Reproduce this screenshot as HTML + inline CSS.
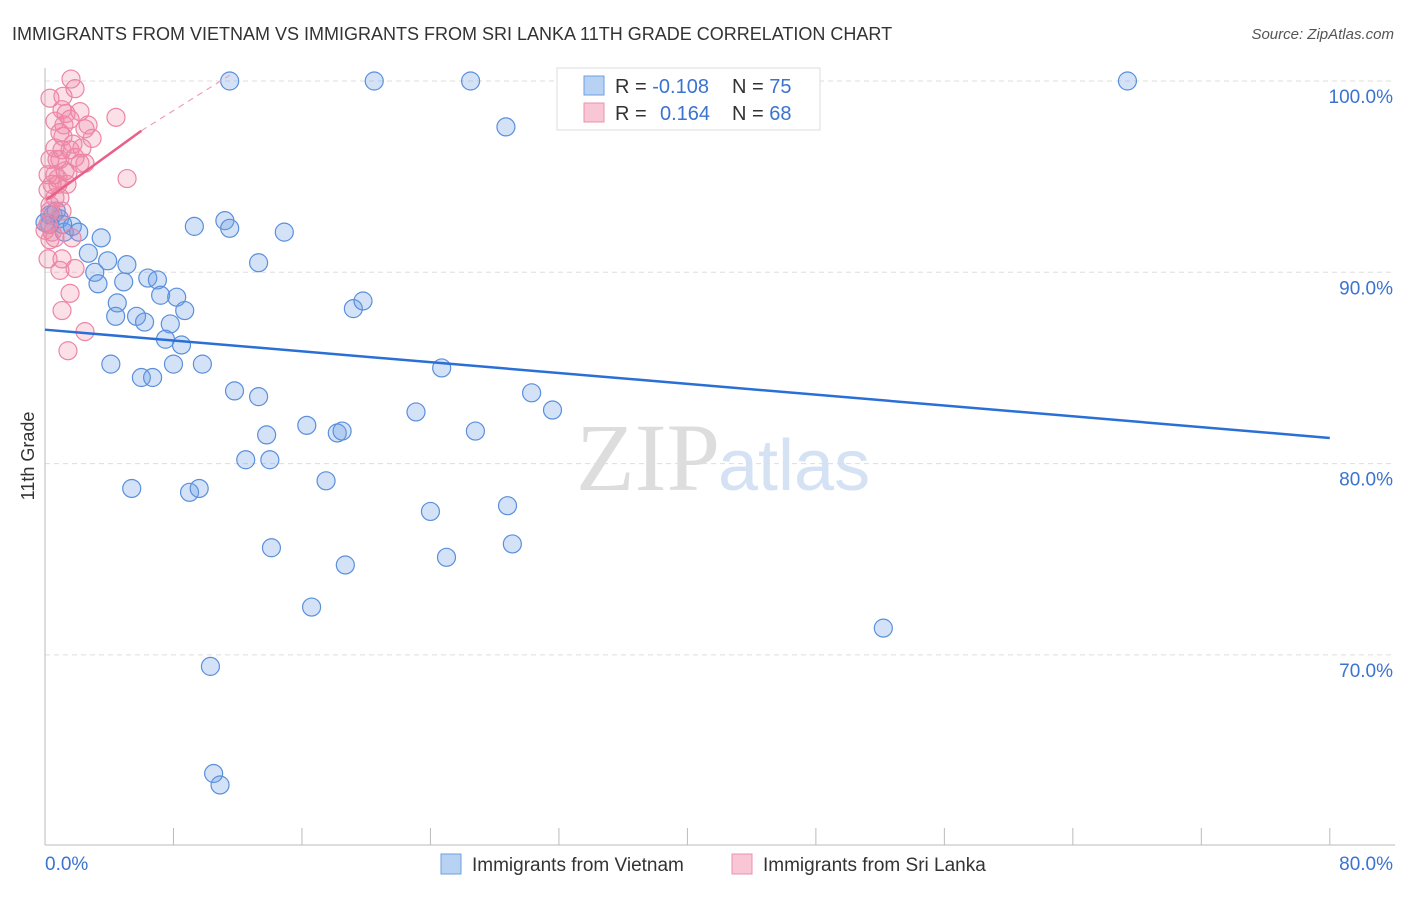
<!DOCTYPE html>
<html><head><meta charset="utf-8"><style>
body{margin:0;background:#fff;font-family:"Liberation Sans",sans-serif}
</style></head><body>
<svg id="c" width="1406" height="892" xmlns="http://www.w3.org/2000/svg">
<text x="12" y="40" font-size="18" fill="#333">IMMIGRANTS FROM VIETNAM VS IMMIGRANTS FROM SRI LANKA 11TH GRADE CORRELATION CHART</text>
<text x="1394" y="39" font-size="15" fill="#555" font-style="italic" text-anchor="end">Source: ZipAtlas.com</text>
<text x="34" y="456" font-size="18" fill="#333" transform="rotate(-90 34 456)" text-anchor="middle">11th Grade</text>
<text x="720" y="490" font-size="96" fill="#ddd" text-anchor="end" font-family="Liberation Serif,serif">ZIP</text>
<text x="718" y="490" font-size="72" fill="#d4e2f4">atlas</text>
<g id="grid"></g><g id="axes"></g><g id="pts"></g><g id="trend"></g>
<g>
<rect x="557" y="68" width="263" height="62" fill="#fff" stroke="#ddd"/>
<rect x="584" y="76" width="20" height="19" fill="#b8d2f4" stroke="#6e9fe0"/>
<rect x="584" y="103" width="20" height="19" fill="#f9c6d5" stroke="#ec92ad"/>
<text x="615" y="93" font-size="20" fill="#333">R = <tspan fill="#3b73d0">-0.108</tspan></text>
<text x="732" y="93" font-size="20" fill="#333">N = <tspan fill="#3b73d0">75</tspan></text>
<text x="615" y="120" font-size="20" fill="#333">R = <tspan fill="#3b73d0" x="660">0.164</tspan></text>
<text x="732" y="120" font-size="20" fill="#333">N = <tspan fill="#3b73d0">68</tspan></text>
</g>
<g>
<rect x="441" y="854" width="20" height="20" fill="#b8d2f4" stroke="#6e9fe0"/>
<text x="472" y="871" font-size="19" fill="#333">Immigrants from Vietnam</text>
<rect x="732" y="854" width="20" height="20" fill="#f9c6d5" stroke="#ec92ad"/>
<text x="763" y="871" font-size="19" fill="#333">Immigrants from Sri Lanka</text>
</g>
</svg>
<script>
const yTicks=[100,90,80,70];
const yTickLabels=["100.0%","90.0%","80.0%","70.0%"];
const xTickLabels=["0.0%","80.0%"];
const blueX=[11.5,20.5,26.5,67.4,43.3,28.7,0.5,0.9,1.2,1.7,2.1,0.7,3.5,9.3,11.2,11.5,14.9,2.7,3.9,5.1,13.3,3.1,3.3,4.9,6.4,7.0,7.2,8.2,4.5,8.7,4.4,5.7,6.2,7.8,7.5,8.5,19.2,19.8,4.1,6.0,6.7,8.0,9.8,11.8,13.3,24.7,30.3,31.6,23.1,16.3,13.8,18.2,18.5,26.8,12.5,14.0,17.5,5.4,9.0,9.6,28.8,24.0,29.1,14.1,25.0,18.7,16.6,52.2,10.3,10.5,10.9,0.3,1.1,0.3,0];
const blueY=[100,100,100,100,100,97.6,93.0,92.8,92.1,92.4,92.1,93.2,91.8,92.4,92.7,92.3,92.1,91.0,90.6,90.4,90.5,90.0,89.4,89.5,89.7,89.6,88.8,88.7,88.4,88.0,87.7,87.7,87.4,87.3,86.5,86.2,88.1,88.5,85.2,84.5,84.5,85.2,85.2,83.8,83.5,85.0,83.7,82.8,82.7,82.0,81.5,81.6,81.7,81.7,80.2,80.2,79.1,78.7,78.5,78.7,77.8,77.5,75.8,75.6,75.1,74.7,72.5,71.4,69.4,63.8,63.2,93.0,92.5,92.5,92.6];
const pinkX=[1.62,1.87,1.12,4.42,2.18,1.06,2.68,2.93,5.11,0.31,1.31,0.62,1.56,0.93,1.12,2.49,0.62,1.56,1.87,0.93,1.25,2.18,2.49,0.31,0.62,1.43,0.44,0.81,0.19,0.93,0.31,1.06,0.19,0.62,0.31,0.19,0.93,1.87,1.06,1.68,1.56,1.06,2.49,1.43,0.44,0.81,1.74,1.06,0.62,0.31,2.3,0,0.19,1.37,0.75,1.18];
const pinkY=[100.1,99.6,99.2,98.1,98.4,98.5,97.7,97.0,94.9,99.1,98.3,97.9,98.0,97.3,97.1,97.5,96.5,96.4,96.0,95.9,95.3,95.7,95.7,95.9,95.1,95.2,94.6,94.6,94.3,93.9,93.5,93.2,92.5,91.8,91.7,90.7,90.1,90.2,90.7,91.8,88.9,88.0,86.9,85.9,92.1,94.9,96.7,96.4,93.9,93.2,96.5,92.2,95.1,94.6,95.9,97.7];
const blueTrend=[[0,87.0],[80,81.34]];
const pinkTrend=[[0.1,93.8],[6,97.4]];
const pinkTrendDash=[[6,97.4],[11.5,100.3]];
const X=v=>45+v*16.06, Y=v=>81+(100-v)*19.13;
const NS="http://www.w3.org/2000/svg";
function mk(p,t,a){const e=document.createElementNS(NS,t);for(const k in a)e.setAttribute(k,a[k]);document.getElementById(p).appendChild(e);return e;}
yTicks.forEach((t,i)=>{
 const g=mk('grid','line',{x1:45,x2:1395,y1:Y(t),y2:Y(t),stroke:'#ddd','stroke-dasharray':'5,4'});
 
 
 const l=mk('grid','text',{x:1393,y:Y(t)+22,'font-size':19,fill:'#3b73d0','text-anchor':'end'});
 l.textContent=yTickLabels[i];
 
 
});
const ya=mk('axes','line',{x1:45,x2:45,y1:68,y2:845,stroke:'#bbb'});


const xa=mk('axes','line',{x1:45,x2:1395,y1:845,y2:845,stroke:'#bbb'});


for(let v=0;v<=80;v+=8){
 const t=mk('axes','line',{x1:X(v),x2:X(v),y1:828,y2:845,stroke:'#bbb'});
 
 
}
[[0,'start',45],[80,'end',1393]].forEach((d,i)=>{
 const l=mk('axes','text',{x:d[2],y:870,'font-size':19,fill:'#3b73d0','text-anchor':d[1]});
 l.textContent=xTickLabels[i];
 
 
});
blueX.forEach((x,i)=>{
 const c=mk('pts','circle',{cx:X(x),cy:Y(blueY[i]),r:9,fill:'rgba(110,160,230,0.3)',stroke:'#5a8fdc','stroke-width':1.2});
 
 
});
pinkX.forEach((x,i)=>{
 const c=mk('pts','circle',{cx:X(x),cy:Y(pinkY[i]),r:9,fill:'rgba(240,130,165,0.25)',stroke:'#ec86a5','stroke-width':1.2});
 
 
});
const bt=mk('trend','line',{x1:X(blueTrend[0][0]),y1:Y(blueTrend[0][1]),x2:X(blueTrend[1][0]),y2:Y(blueTrend[1][1]),stroke:'#2a6fd6','stroke-width':2.5});


const pt=mk('trend','line',{x1:X(pinkTrend[0][0]),y1:Y(pinkTrend[0][1]),x2:X(pinkTrend[1][0]),y2:Y(pinkTrend[1][1]),stroke:'#e8608a','stroke-width':2.5});


const pd=mk('trend','line',{x1:X(pinkTrendDash[0][0]),y1:Y(pinkTrendDash[0][1]),x2:X(pinkTrendDash[1][0]),y2:Y(pinkTrendDash[1][1]),stroke:'#f0a0b8','stroke-width':1.2,'stroke-dasharray':'6,5'});


</script>
</body></html>
